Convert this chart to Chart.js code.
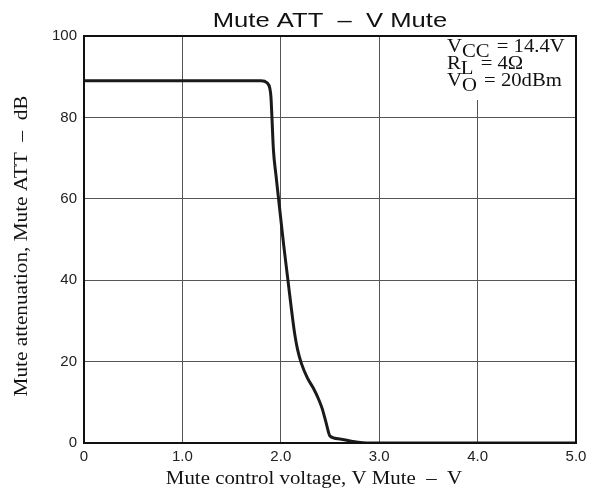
<!DOCTYPE html>
<html>
<head>
<meta charset="utf-8">
<script src="https://cdn.jsdelivr.net/npm/chart.js@4/dist/chart.umd.min.js"></script>
<style>
  body { margin: 0; background: #fff; }
  canvas { display: block; }
</style>
</head>
<body>
<canvas id="mute-chart" width="603" height="498"></canvas>
<script>
'use strict';

// mute control voltage (V) and attenuation (dB)
var voltage = [0, 1.8, 1.86, 1.89, 1.9, 1.91, 1.925, 1.95, 1.975, 2.0, 2.03, 2.07, 2.11, 2.14, 2.17, 2.21, 2.27, 2.33, 2.38, 2.42, 2.46, 2.5, 2.6, 2.73, 2.9, 5.0];
var attenuation = [89, 89, 88.5, 87, 85, 80, 72, 66, 60.5, 55, 48.5, 40.5, 32.5, 27, 23, 19.5, 16, 13.5, 11, 8.5, 5, 1.7, 1, 0.4, 0, 0];

var xTickLabels = ['0', '1.0', '2.0', '3.0', '4.0', '5.0'];
var yTickLabels = ['0', '20', '40', '60', '80', '100'];

var chartTitle = 'Mute ATT  \u2013  V Mute';
var xTitle = 'Mute control voltage, V Mute  \u2013  V';
var yTitle = 'Mute attenuation, Mute ATT  \u2013  dB';

// test conditions shown in the corner: [main, subscript, rest]
var conditions = [
    ['V', 'CC', ' = 14.4V'],
    ['R', 'L', ' = 4\u03A9'],
    ['V', 'O', ' = 20dBm']
];

var serif = '"Liberation Serif", "Times New Roman", serif';
var sans = '"Liberation Sans", Arial, sans-serif';

// the original lettering is a bit wider than these fonts, so stretch it along the line
function wideText(ctx, text, x, y, stretch, angle) {
    ctx.save();
    ctx.translate(x, y);
    ctx.rotate(angle || 0);
    ctx.scale(stretch, 1);
    ctx.fillText(text, 0, 0);
    ctx.restore();
}

var labels = {
    id: 'labels',
    beforeDatasetsDraw: function (chart) {
        var ctx = chart.ctx;
        var area = chart.chartArea;
        var k = 1.15;
        ctx.save();
        ctx.fillStyle = '#fff';
        ctx.fillRect(440, area.top + 1, area.right - 441, 63);
        ctx.fillStyle = '#111';
        ctx.textAlign = 'left';
        ctx.textBaseline = 'alphabetic';
        ctx.font = '18px ' + serif;
        conditions.forEach(function (c, i) {
            var x = 447;
            var y = 52 + i * 17;
            wideText(ctx, c[0], x, y, k);
            x += ctx.measureText(c[0]).width * k;
            wideText(ctx, c[1], x, y + 4.5, k);
            x += ctx.measureText(c[1]).width * k + 2;
            wideText(ctx, c[2], x, y, k);
        });
        ctx.restore();
    },
    afterDraw: function (chart) {
        var ctx = chart.ctx;
        var a = chart.chartArea;
        ctx.save();
        ctx.strokeStyle = '#111';
        ctx.lineWidth = 2;
        ctx.strokeRect(a.left, a.top, a.right - a.left, a.bottom - a.top);

        ctx.fillStyle = '#111';
        ctx.textAlign = 'center';
        ctx.textBaseline = 'alphabetic';
        ctx.font = '21px ' + sans;
        wideText(ctx, chartTitle, 330, 27, 1.22);
        ctx.font = '18px ' + serif;
        wideText(ctx, xTitle, 314, 484, 1.16);
        wideText(ctx, yTitle, 27, 246, 1.18, -Math.PI / 2);
        ctx.restore();
    }
};

new Chart(document.getElementById('mute-chart'), {
    type: 'line',
    data: {
        datasets: [{
            data: voltage.map((v, i) => ({ x: v, y: attenuation[i] })),
            borderColor: '#1a1a1a',
            borderWidth: 3,
            pointRadius: 0,
            cubicInterpolationMode: 'monotone',
            fill: false
        }]
    },
    options: {
        responsive: false,
        animation: false,
        layout: { padding: { top: 36, right: 27, left: 0, bottom: 0 } },
        plugins: {
            legend: { display: false },
            tooltip: { enabled: false },
            title: { display: false }
        },
        scales: {
            x: {
                type: 'linear',
                min: 0,
                max: 5,
                afterFit: scale => { scale.height = 55; },
                ticks: {
                    stepSize: 1,
                    padding: 5,
                    color: '#222',
                    font: { family: sans, size: 15 },
                    callback: v => xTickLabels[Math.round(v)]
                },
                grid: { color: '#555', lineWidth: 1, drawTicks: false },
                border: { display: false }
            },
            y: {
                min: 0,
                max: 100,
                afterFit: scale => { scale.width = 84; },
                ticks: {
                    stepSize: 20,
                    padding: 7,
                    color: '#222',
                    font: { family: sans, size: 15 },
                    callback: v => yTickLabels[Math.round(v / 20)]
                },
                grid: { color: '#555', lineWidth: 1, drawTicks: false },
                border: { display: false }
            }
        }
    },
    plugins: [labels]
});
</script>
</body>
</html>
